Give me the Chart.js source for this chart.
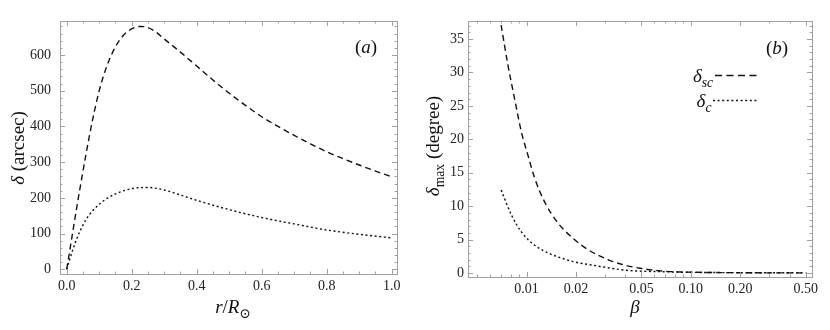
<!DOCTYPE html>
<html>
<head>
<meta charset="utf-8">
<script src="https://cdn.jsdelivr.net/npm/chart.js@4.4.1/dist/chart.umd.min.js"></script>
<style>
  html, body { margin: 0; padding: 0; background: #fff; }
  #wrap { display: flex; width: 830px; height: 330px; }
  canvas { display: block; }
</style>
</head>
<body>
<div id="wrap">
  <canvas id="chartA" width="415" height="330"></canvas>
  <canvas id="chartB" width="415" height="330"></canvas>
</div>
<script>
// --- panel (a): delta (arcsec) vs r/R_sun ---
const rValues = [0, 0.01, 0.02, 0.03, 0.04, 0.06, 0.08, 0.1, 0.12, 0.14, 0.16, 0.18, 0.2, 0.225, 0.25, 0.275, 0.3, 0.35, 0.4, 0.45, 0.5, 0.55, 0.6, 0.65, 0.7, 0.75, 0.8, 0.85, 0.9, 0.95, 1.0];
const deltaSc = [0, 56, 112, 168, 222, 325, 420, 500, 560, 605, 638, 660, 673, 680, 677, 664, 645, 608, 569, 530, 493, 459, 427, 400, 375, 351, 329, 310, 292, 275, 259];
const rValuesC = [0, 0.01, 0.02, 0.03, 0.04, 0.06, 0.08, 0.1, 0.12, 0.15, 0.2, 0.25, 0.3, 0.35, 0.4, 0.5, 0.6, 0.7, 0.8, 0.9, 1.0];
const deltaC = [0, 30, 58, 83, 105, 140, 164, 182, 196, 211, 226, 229, 222, 208, 193, 167, 145, 127, 110, 98, 88];

const aXTicks = [0, 0.2, 0.4, 0.6, 0.8, 1.0];
const aXMinor = [0.05, 0.1, 0.15, 0.25, 0.3, 0.35, 0.45, 0.5, 0.55, 0.65, 0.7, 0.75, 0.85, 0.9, 0.95];
const aYTicks = [0, 100, 200, 300, 400, 500, 600];
const aYMinor = [20, 40, 60, 80, 120, 140, 160, 180, 220, 240, 260, 280, 320, 340, 360, 380, 420, 440, 460, 480, 520, 540, 560, 580, 620, 640, 660, 680];

// --- panel (b): delta_max (degree) vs beta ---
const betaSc = [0.0070, 0.0077, 0.00845, 0.0093, 0.0102, 0.0112, 0.0129, 0.0155, 0.0198, 0.0236, 0.032, 0.04, 0.05, 0.065, 0.08, 0.1, 0.15, 0.2, 0.3, 0.5];
const maxSc = [37.1, 31.1, 26.1, 21.1, 17.6, 14.2, 10.6, 7.5, 4.9, 3.5, 1.9, 1.15, 0.68, 0.32, 0.18, 0.12, 0.06, 0.04, 0.02, 0.01];
const betaC = [0.0070, 0.0081, 0.0093, 0.0112, 0.0141, 0.016, 0.0196, 0.0255, 0.0406, 0.065, 0.1, 0.2, 0.5];
const maxC = [12.4, 8.65, 6.15, 4.15, 2.8, 2.3, 1.65, 1.15, 0.4, 0.2, 0.1, 0.05, 0.02];

const bXTicks = [0.01, 0.02, 0.05, 0.1, 0.2, 0.5];
const bXMinor = [0.005, 0.006, 0.007, 0.008, 0.009, 0.03, 0.04, 0.06, 0.07, 0.08, 0.09, 0.3, 0.4];
const bYTicks = [0, 5, 10, 15, 20, 25, 30, 35];
const bYMinor = [1, 2, 3, 4, 6, 7, 8, 9, 11, 12, 13, 14, 16, 17, 18, 19, 21, 22, 23, 24, 26, 27, 28, 29, 31, 32, 33, 34, 36, 37];

const SERIF = "'Liberation Serif', 'DejaVu Serif', serif";
const FRAME = '#a0a0a0';
const DASH = [6, 4];
const DOT = [2, 2.6];

function pts(xs, ys) {
  return xs.map((x, i) => ({ x: x, y: ys[i] }));
}

// mixed-style text (italic, subscript) centred on cx, cy
function partFont(p, size) {
  const s = p.sub ? size * 0.72 : size;
  return (p.it ? 'italic ' : '') + s + 'px ' + SERIF;
}
function drawRich(ctx, parts, cx, cy, size, rotate) {
  ctx.save();
  let w = 0;
  parts.forEach(p => { ctx.font = partFont(p, size); p.w = ctx.measureText(p.t).width; w += p.w; });
  ctx.translate(cx, cy);
  if (rotate) ctx.rotate(-Math.PI / 2);
  ctx.fillStyle = '#111';
  ctx.textBaseline = 'alphabetic';
  let x = -w / 2;
  const base = size * 0.33;
  parts.forEach(p => {
    ctx.font = partFont(p, size);
    ctx.fillText(p.t, x, base + (p.sub ? size * 0.25 : 0));
    x += p.w;
  });
  ctx.restore();
  return w;
}

function framePlugin(cfg) {
  return {
    id: 'frame',
    afterDraw(chart) {
      const ctx = chart.ctx;
      const a = chart.chartArea;
      const xs = chart.scales.x, ys = chart.scales.y;
      ctx.save();
      ctx.strokeStyle = FRAME;
      ctx.lineWidth = 1;
      ctx.strokeRect(Math.round(a.left) + 0.5, Math.round(a.top) + 0.5, Math.round(a.right - a.left), Math.round(a.bottom - a.top));
      ctx.beginPath();
      const tx = (v, len) => {
        const p = Math.round(xs.getPixelForValue(v)) + 0.5;
        ctx.moveTo(p, a.bottom); ctx.lineTo(p, a.bottom - len);
        ctx.moveTo(p, a.top); ctx.lineTo(p, a.top + len);
      };
      const ty = (v, len) => {
        const p = Math.round(ys.getPixelForValue(v)) + 0.5;
        ctx.moveTo(a.left, p); ctx.lineTo(a.left + len, p);
        ctx.moveTo(a.right, p); ctx.lineTo(a.right - len, p);
      };
      cfg.xTicks.forEach(v => tx(v, 5));
      cfg.xMinor.forEach(v => tx(v, 2.5));
      cfg.yTicks.forEach(v => ty(v, 5));
      cfg.yMinor.forEach(v => ty(v, 2.5));
      ctx.stroke();
      ctx.restore();
      cfg.labels(ctx, a);
    }
  };
}

function makeChart(id, cfg) {
  return new Chart(document.getElementById(id), {
    type: 'line',
    data: {
      datasets: cfg.series.map(s => ({
        data: s.data,
        borderColor: '#111',
        borderWidth: 1.4,
        borderDash: s.dash,
        pointRadius: 0,
        fill: false,
        cubicInterpolationMode: 'monotone'
      }))
    },
    options: {
      responsive: false,
      animation: false,
      events: [],
      layout: { padding: { left: 0, top: 21, right: 18, bottom: 0 } },
      plugins: { legend: { display: false }, tooltip: { enabled: false } },
      scales: {
        x: {
          type: cfg.xType,
          min: cfg.xMin, max: cfg.xMax,
          grid: { display: false, drawTicks: false },
          border: { display: false },
          afterBuildTicks: s => { s.ticks = cfg.xTicks.map(v => ({ value: v })); },
          afterFit: s => { s.height = cfg.xHeight; },
          ticks: {
            padding: cfg.xPad,
            color: '#222',
            font: { family: SERIF, size: 14 },
            maxRotation: 0,
            autoSkip: false,
            callback: v => cfg.xFmt(v)
          }
        },
        y: {
          type: 'linear',
          min: cfg.yMin, max: cfg.yMax,
          grid: { display: false, drawTicks: false },
          border: { display: false },
          afterBuildTicks: s => { s.ticks = cfg.yTicks.map(v => ({ value: v })); },
          afterFit: s => { s.width = cfg.yWidth; },
          ticks: {
            padding: cfg.yPad,
            color: '#222',
            font: { family: SERIF, size: 14 },
            autoSkip: false,
            callback: v => String(v)
          }
        }
      }
    },
    plugins: [framePlugin(cfg)]
  });
}

makeChart('chartA', {
  series: [{ data: pts(rValues, deltaSc), dash: DASH }, { data: pts(rValuesC, deltaC), dash: DOT }],
  xType: 'linear', xMin: -0.0206, xMax: 1.0163, xHeight: 56, xPad: 4,
  yMin: -13.2, yMax: 695.2, yWidth: 60, yPad: 9,
  xTicks: aXTicks, xMinor: aXMinor, yTicks: aYTicks, yMinor: aYMinor,
  xFmt: v => v.toFixed(1),
  labels(ctx, a) {
    drawRich(ctx, [{ t: 'δ', it: true }, { t: ' (arcsec)' }], 18, 148, 19, true);
    drawRich(ctx, [{ t: 'r', it: true }, { t: '/' }, { t: 'R', it: true }, { t: '⊙', sub: true }], 233, 307, 19, false);
    drawRich(ctx, [{ t: '(' }, { t: 'a', it: true }, { t: ')' }], 366, 47, 19, false);
  }
});

makeChart('chartB', {
  series: [{ data: pts(betaSc, maxSc), dash: DASH }, { data: pts(betaC, maxC), dash: DOT }],
  xType: 'logarithmic', xMin: 0.0044, xMax: 0.5465, xHeight: 53, xPad: 4,
  yMin: -0.6, yMax: 37.7, yWidth: 53, yPad: 4,
  xTicks: bXTicks, xMinor: bXMinor, yTicks: bYTicks, yMinor: bYMinor,
  xFmt: v => v.toFixed(2),
  labels(ctx, a) {
    drawRich(ctx, [{ t: 'δ', it: true }, { t: 'max', sub: true }, { t: ' (degree)' }], 18, 146, 19, true);
    drawRich(ctx, [{ t: 'β', it: true }], 220, 307, 19, false);
    drawRich(ctx, [{ t: '(' }, { t: 'b', it: true }, { t: ')' }], 362, 48, 19, false);
    // legend
    drawRich(ctx, [{ t: 'δ', it: true }, { t: 'sc', it: true, sub: true }], 288, 76, 19, false);
    drawRich(ctx, [{ t: 'δ', it: true }, { t: 'c', it: true, sub: true }], 289, 101, 19, false);
    ctx.save();
    ctx.strokeStyle = '#111';
    ctx.lineWidth = 1.3;
    ctx.setLineDash([7, 4.5]);
    ctx.beginPath(); ctx.moveTo(300, 75.5); ctx.lineTo(342, 75.5); ctx.stroke();
    ctx.setLineDash(DOT);
    ctx.beginPath(); ctx.moveTo(298, 100.5); ctx.lineTo(342, 100.5); ctx.stroke();
    ctx.restore();
  }
});
</script>
</body>
</html>
